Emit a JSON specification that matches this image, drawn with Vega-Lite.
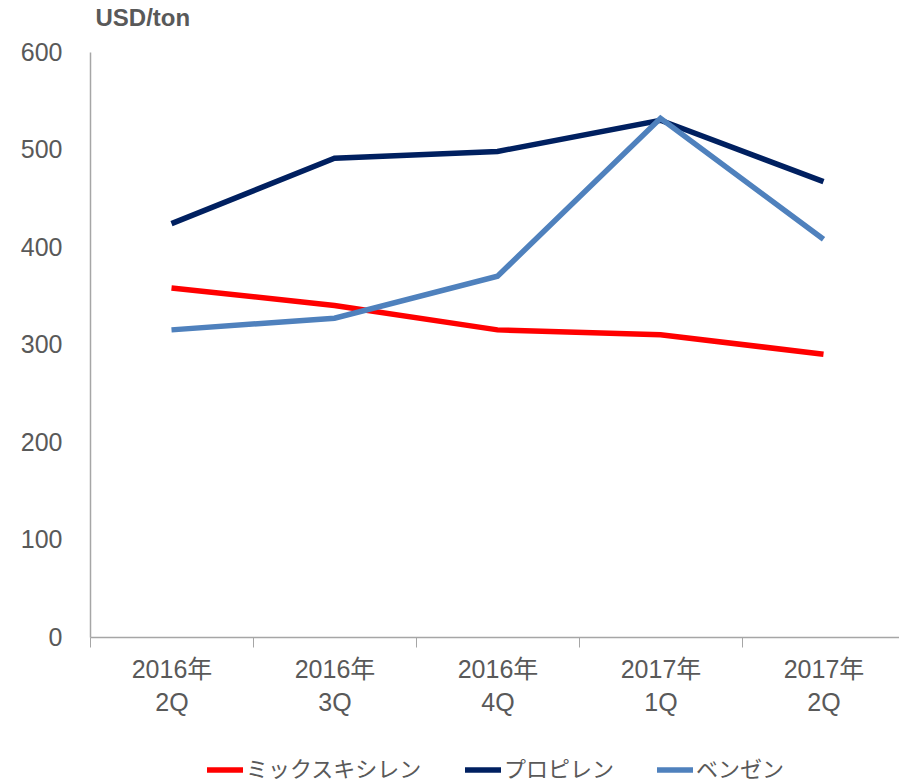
{
  "$schema": "https://vega.github.io/schema/vega-lite/v6.json",
  "width": 815,
  "height": 585,
  "autosize": {"type": "none"},
  "padding": {"left": 90, "top": 52, "right": 0, "bottom": 145},
  "background": "white",
  "config": {
    "view": {"stroke": null},
    "font": "Liberation Sans, Noto Sans CJK JP"
  },
  "data": {
    "values": [
      {"period": "2016年|2Q", "series": "ミックスキシレン", "value": 358},
      {"period": "2016年|3Q", "series": "ミックスキシレン", "value": 340},
      {"period": "2016年|4Q", "series": "ミックスキシレン", "value": 315},
      {"period": "2017年|1Q", "series": "ミックスキシレン", "value": 310},
      {"period": "2017年|2Q", "series": "ミックスキシレン", "value": 290},
      {"period": "2016年|2Q", "series": "プロピレン", "value": 424},
      {"period": "2016年|3Q", "series": "プロピレン", "value": 491},
      {"period": "2016年|4Q", "series": "プロピレン", "value": 498},
      {"period": "2017年|1Q", "series": "プロピレン", "value": 530},
      {"period": "2017年|2Q", "series": "プロピレン", "value": 467},
      {"period": "2016年|2Q", "series": "ベンゼン", "value": 315},
      {"period": "2016年|3Q", "series": "ベンゼン", "value": 327},
      {"period": "2016年|4Q", "series": "ベンゼン", "value": 370},
      {"period": "2017年|1Q", "series": "ベンゼン", "value": 532},
      {"period": "2017年|2Q", "series": "ベンゼン", "value": 408}
    ]
  },
  "mark": {"type": "line", "strokeWidth": 5.5, "strokeCap": "butt"},
  "encoding": {
    "x": {
      "field": "period",
      "type": "ordinal",
      "sort": null,
      "bandPosition": 0.5,
      "scale": {"type": "band", "paddingInner": 0, "paddingOuter": 0},
      "axis": {
        "title": null,
        "labelAngle": 0,
        "labelExpr": "isValid(datum.value) ? split(datum.value, '|') : ''",
        "labelFontSize": 25,
        "labelColor": "#595959",
        "labelFont": "Liberation Sans, Noto Sans CJK JP",
        "labelPadding": 10,
        "labelLineHeight": 33,
        "tickBand": "extent",
        "tickSize": 10,
        "tickOffset": 0,
        "tickColor": "#A6A6A6",
        "domainColor": "#A6A6A6",
        "domainWidth": 1.5,
        "tickWidth": 1,
        "grid": false
      }
    },
    "y": {
      "field": "value",
      "type": "quantitative",
      "scale": {"domain": [0, 600], "nice": false},
      "axis": {
        "values": [0, 100, 200, 300, 400, 500, 600],
        "title": "USD/ton",
        "titleAngle": 0,
        "titleAlign": "left",
        "titleBaseline": "middle",
        "titleX": 5,
        "titleY": -34,
        "titleFontSize": 24,
        "titleFontWeight": "bold",
        "titleColor": "#595959",
        "labelFontSize": 25,
        "labelColor": "#595959",
        "labelPadding": 28,
        "ticks": false,
        "domainColor": "#A6A6A6",
        "domainWidth": 1.5,
        "grid": false
      }
    },
    "color": {
      "field": "series",
      "type": "nominal",
      "scale": {
        "domain": ["ミックスキシレン", "プロピレン", "ベンゼン"],
        "range": ["#FF0000", "#002060", "#4F81BD"]
      },
      "legend": {
        "title": null,
        "orient": "none",
        "direction": "horizontal",
        "legendX": 114,
        "legendY": 697,
        "symbolType": "stroke",
        "symbolSize": 1296,
        "symbolStrokeWidth": 5.5,
        "labelFontSize": 22,
        "labelColor": "#595959",
        "labelFont": "Noto Sans CJK JP",
        "labelLimit": 400,
        "labelOffset": 0,
        "columnPadding": 31,
        "symbolOffset": 0
      }
    }
  }
}
